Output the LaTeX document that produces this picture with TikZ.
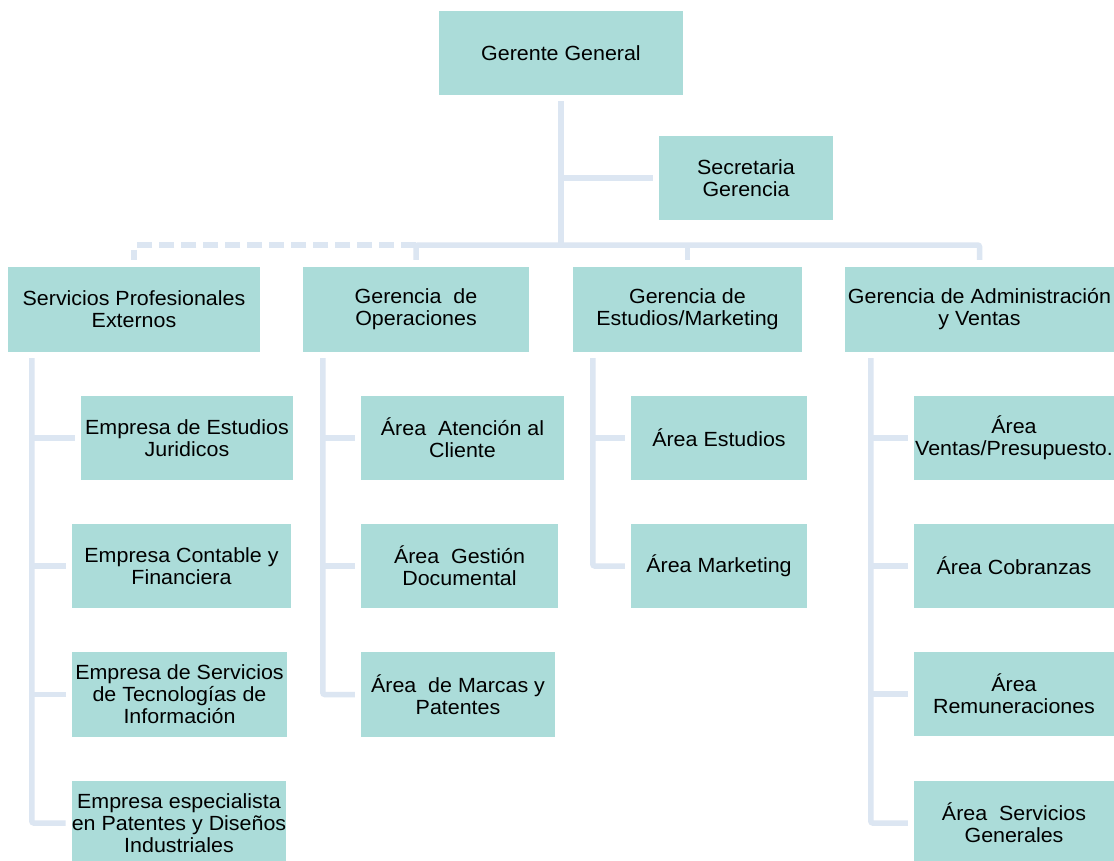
\documentclass[tikz,border=0pt]{standalone}
\usepackage{fontspec}
\setmainfont[FakeStretch=1.045]{Liberation Sans}
\definecolor{boxfill}{HTML}{ABDCD9}
\definecolor{linec}{HTML}{DCE6F2}
\begin{document}
\begin{tikzpicture}[x=1pt,y=-1pt,
  box/.style={fill=boxfill, draw=none, inner sep=0pt, align=center,
    font=\fontsize{20.5}{22}\selectfont},
  conn/.style={draw=linec, line width=5.5pt, rounded corners=2pt},
  dconn/.style={conn, dash pattern=on 15pt off 7pt}]
\clip (0,0) rectangle (1114,860);
\fill[white] (0,0) rectangle (1114,860);
% level 0/1
\node[box, minimum width=244pt, minimum height=84pt] (gg) at (561,53) {Gerente General};
\node[box, minimum width=174pt, minimum height=84pt] (sec) at (746,178) {Secretaria\\Gerencia};
% level 2
\node[box, minimum width=252pt, minimum height=85pt] (spe) at (134,309.5) {Servicios Profesionales\\Externos};
\node[box, minimum width=226pt, minimum height=85pt] (ops) at (416,309.5) {Gerencia \ de\\Operaciones};
\node[box, minimum width=229pt, minimum height=85pt] (est) at (687.5,309.5) {Gerencia de\\Estudios/Marketing};
\node[box, minimum width=269pt, minimum height=85pt] (adm) at (979.5,309.5) {Gerencia de Administración\\y Ventas};
% column 1
\node[box, minimum width=212pt, minimum height=84pt] (c1a) at (187,438) {Empresa de Estudios\\Juridicos};
\node[box, minimum width=219pt, minimum height=84pt] (c1b) at (181.5,566) {Empresa Contable y\\Financiera};
\node[box, minimum width=215pt, minimum height=85pt] (c1c) at (179.5,694.5) {Empresa de Servicios\\de Tecnologías de\\Información};
\node[box, minimum width=214pt, minimum height=84pt] (c1d) at (179,823) {Empresa especialista\\en Patentes y Diseños\\Industriales};
% column 2
\node[box, minimum width=203pt, minimum height=84pt] (c2a) at (462.5,438) {Área \ Atención al\\Cliente};
\node[box, minimum width=197pt, minimum height=84pt] (c2b) at (459.5,566) {Área \ Gestión\\Documental};
\node[box, minimum width=194pt, minimum height=85pt] (c2c) at (458,694.5) {Área \ de Marcas y\\Patentes};
% column 3
\node[box, minimum width=176pt, minimum height=84pt] (c3a) at (719,438) {Área Estudios};
\node[box, minimum width=176pt, minimum height=84pt] (c3b) at (719,566) {Área Marketing};
% column 4
\node[box, minimum width=200pt, minimum height=84pt] (c4a) at (1014,438) {Área\\Ventas/Presupuesto.};
\node[box, minimum width=200pt, minimum height=84pt] (c4b) at (1014,566) {Área Cobranzas};
\node[box, minimum width=200pt, minimum height=84pt] (c4c) at (1014,694) {Área\\Remuneraciones};
\node[box, minimum width=200pt, minimum height=84pt] (c4d) at (1014,823) {Área \ Servicios\\Generales};
% bus
\coordinate (bus) at (561,245);
\draw[conn] ([yshift=-6pt]gg.south) -- (gg.south |- bus);
\draw[conn] (gg.south |- sec.west) -- ([xshift=-6pt]sec.west);
\draw[conn] ([yshift=7pt]ops.north) |- (adm.north |- bus) -- ([yshift=7pt]adm.north);
\draw[conn] (est.north |- bus) -- ([yshift=7pt]est.north);
\draw[dconn] (ops.north |- bus) -| ([yshift=7pt]spe.north);
% column connectors
\coordinate (v1) at ([xshift=24pt,yshift=-6pt]spe.south west);
\draw[conn] (v1) |- ([xshift=-6pt]c1d.west);
\draw[conn] (v1 |- c1a.west) -- ([xshift=-6pt]c1a.west);
\draw[conn] (v1 |- c1b.west) -- ([xshift=-6pt]c1b.west);
\draw[conn] (v1 |- c1c.west) -- ([xshift=-6pt]c1c.west);
\coordinate (v2) at ([xshift=20pt,yshift=-6pt]ops.south west);
\draw[conn] (v2) |- ([xshift=-6pt]c2c.west);
\draw[conn] (v2 |- c2a.west) -- ([xshift=-6pt]c2a.west);
\draw[conn] (v2 |- c2b.west) -- ([xshift=-6pt]c2b.west);
\coordinate (v3) at ([xshift=20pt,yshift=-6pt]est.south west);
\draw[conn] (v3) |- ([xshift=-6pt]c3b.west);
\draw[conn] (v3 |- c3a.west) -- ([xshift=-6pt]c3a.west);
\coordinate (v4) at ([xshift=26pt,yshift=-6pt]adm.south west);
\draw[conn] (v4) |- ([xshift=-6pt]c4d.west);
\draw[conn] (v4 |- c4a.west) -- ([xshift=-6pt]c4a.west);
\draw[conn] (v4 |- c4b.west) -- ([xshift=-6pt]c4b.west);
\draw[conn] (v4 |- c4c.west) -- ([xshift=-6pt]c4c.west);
\end{tikzpicture}
\end{document}
